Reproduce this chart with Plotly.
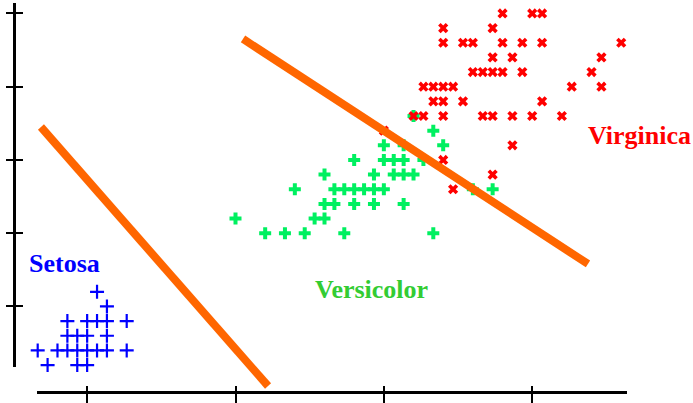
import plotly.graph_objects as go

W, H = 693, 403

# Petal length / petal width samples, grouped row by row
setosa_len = [1.6,
              1.7,
              1.3, 1.5, 1.6, 1.7, 1.9,
              1.3, 1.4, 1.5, 1.7,
              1.0, 1.2, 1.3, 1.4, 1.5, 1.6, 1.7, 1.9,
              1.1, 1.4, 1.5]
setosa_wid = [0.6,
              0.5,
              0.4, 0.4, 0.4, 0.4, 0.4,
              0.3, 0.3, 0.3, 0.3,
              0.2, 0.2, 0.2, 0.2, 0.2, 0.2, 0.2, 0.2,
              0.1, 0.1, 0.1]

versicolor_len = [4.8,
                  5.0,
                  4.5, 4.7, 5.1,
                  4.2, 4.5, 4.6, 4.7, 4.9,
                  3.9, 4.4, 4.6, 4.7, 4.8,
                  3.6, 4.0, 4.1, 4.2, 4.3, 4.4, 4.5, 5.4, 5.6,
                  3.9, 4.0, 4.2, 4.4, 4.7,
                  3.0, 3.8, 3.9,
                  3.3, 3.5, 3.7, 4.1, 5.0]
versicolor_wid = [1.8,
                  1.7,
                  1.6, 1.6, 1.6,
                  1.5, 1.5, 1.5, 1.5, 1.5,
                  1.4, 1.4, 1.4, 1.4, 1.4,
                  1.3, 1.3, 1.3, 1.3, 1.3, 1.3, 1.3, 1.3, 1.3,
                  1.2, 1.2, 1.2, 1.2, 1.2,
                  1.1, 1.1, 1.1,
                  1.0, 1.0, 1.0, 1.0, 1.0]

virginica_len = [5.7, 6.0, 6.1,
                 5.1, 5.6,
                 5.1, 5.3, 5.4, 5.7, 5.9, 6.1, 6.9,
                 5.6, 5.8, 6.7,
                 5.4, 5.5, 5.6, 5.7, 5.9, 6.6,
                 4.9, 5.0, 5.1, 5.2, 6.4, 6.7,
                 5.0, 5.1, 5.3, 6.1,
                 4.8, 4.9, 5.1, 5.5, 5.6, 5.8, 6.0, 6.3,
                 4.5,
                 5.8,
                 5.1,
                 5.6,
                 5.2]
virginica_wid = [2.5, 2.5, 2.5,
                 2.4, 2.4,
                 2.3, 2.3, 2.3, 2.3, 2.3, 2.3, 2.3,
                 2.2, 2.2, 2.2,
                 2.1, 2.1, 2.1, 2.1, 2.1, 2.1,
                 2.0, 2.0, 2.0, 2.0, 2.0, 2.0,
                 1.9, 1.9, 1.9, 1.9,
                 1.8, 1.8, 1.8, 1.8, 1.8, 1.8, 1.8, 1.8,
                 1.7,
                 1.6,
                 1.5,
                 1.4,
                 1.3]

# Two linear decision boundaries (endpoints in data units)
boundary1_len = [1.033, 3.329]
boundary1_wid = [1.725, -0.043]
boundary2_len = [3.076, 6.564]
boundary2_wid = [2.326, 0.790]

x_ticks = [1.5, 3.0, 4.5, 6.0]
y_ticks = [0.5, 1.0, 1.5, 2.0, 2.5]

class_labels = ["Setosa", "Versicolor", "Virginica"]
label_len = [1.266, 4.38, 7.08]
label_wid = [0.794, 0.619, 1.67]
label_colors = ["#0000FF", "#33CC33", "#FF0000"]

# pixel scale of the data: px = 37.7 + (len-1)*98.9 ; py = 233.2 - (wid-1)*146.5
PX_PER_X = 98.9
PX_PER_Y = 146.5
X0_PX, Y0_PX = 37.7, 233.2


def x_at(px):
    return 1.0 + (px - X0_PX) / PX_PER_X


def y_at(py):
    return 1.0 + (Y0_PX - py) / PX_PER_Y


fig = go.Figure()

fig.add_trace(go.Scatter(
    x=setosa_len, y=setosa_wid, mode="markers",
    marker=dict(symbol="cross-thin", size=10, color="#0000FF",
                line=dict(color="#0000FF", width=2.2)),
    xaxis="x", yaxis="y", hoverinfo="skip"))
fig.add_trace(go.Scatter(
    x=versicolor_len, y=versicolor_wid, mode="markers",
    marker=dict(symbol="cross", size=10, color="#00F060", line=dict(width=0)),
    xaxis="x", yaxis="y", hoverinfo="skip"))
fig.add_trace(go.Scatter(
    x=virginica_len, y=virginica_wid, mode="markers",
    marker=dict(symbol="x", size=9, color="#FF0000", line=dict(width=0)),
    xaxis="x", yaxis="y", hoverinfo="skip"))

for bx, by in [(boundary1_len, boundary1_wid), (boundary2_len, boundary2_wid)]:
    fig.add_trace(go.Scatter(
        x=bx, y=by, mode="lines",
        line=dict(color="#FF6600", width=8),
        xaxis="x", yaxis="y", hoverinfo="skip"))

# empty traces so that the drawn axis frames are rendered
fig.add_trace(go.Scatter(x=[], y=[], xaxis="x2", yaxis="y2", showlegend=False))
fig.add_trace(go.Scatter(x=[], y=[], xaxis="x3", yaxis="y3", showlegend=False))

for name, lx, ly, col in zip(class_labels, label_len, label_wid, label_colors):
    fig.add_annotation(
        x=lx, y=ly, xref="x", yref="y", text=name, showarrow=False,
        font=dict(family="Liberation Serif", size=26, color=col, weight="bold"))

x_dom = [37 / W, 627 / W]
y_dom = [1 - 367 / H, 1 - 3 / H]
x_pos = 1 - 392 / H
y_pos = 14 / W
x_rng = [x_at(37), x_at(627)]
y_rng = [y_at(367), y_at(3)]

axis_common = dict(showgrid=False, zeroline=False, showticklabels=False,
                   fixedrange=True)

fig.update_layout(
    width=W, height=H,
    margin=dict(l=0, r=0, t=0, b=0),
    paper_bgcolor="white", plot_bgcolor="rgba(0,0,0,0)",
    showlegend=False,
    xaxis=dict(domain=[0, 1], range=[x_at(0), x_at(W)], visible=False,
               fixedrange=True),
    yaxis=dict(domain=[0, 1], range=[y_at(H), y_at(0)], visible=False,
               fixedrange=True),
    xaxis2=dict(domain=x_dom, range=x_rng, anchor="free", position=x_pos,
                showline=True, linecolor="black", linewidth=2.5,
                tickmode="array", tickvals=x_ticks, ticks="outside",
                ticklen=11, tickwidth=2, tickcolor="black", **axis_common),
    yaxis2=dict(domain=y_dom, range=y_rng, anchor="free", position=y_pos,
                showline=True, linecolor="black", linewidth=2.5,
                tickmode="array", tickvals=y_ticks, ticks="outside",
                ticklen=7, tickwidth=2, tickcolor="black", **axis_common),
    xaxis3=dict(domain=x_dom, range=x_rng, anchor="free", position=x_pos,
                showline=False, tickmode="array", tickvals=x_ticks,
                ticks="inside", ticklen=6, tickwidth=2, tickcolor="black",
                **axis_common),
    yaxis3=dict(domain=y_dom, range=y_rng, anchor="free", position=y_pos,
                showline=False, tickmode="array", tickvals=y_ticks,
                ticks="inside", ticklen=8, tickwidth=2, tickcolor="black",
                **axis_common),
)

fig.write_html("out.html")
